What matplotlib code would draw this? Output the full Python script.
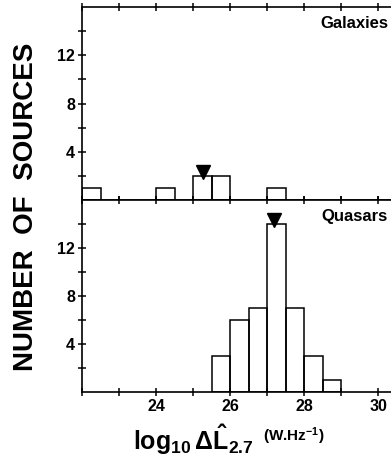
import matplotlib
matplotlib.use('Agg')
import matplotlib.pyplot as plt

plt.rcParams['font.family'] = ['Liberation Sans', 'DejaVu Sans']
plt.rcParams['font.weight'] = 'bold'
plt.rcParams['mathtext.fontset'] = 'custom'
plt.rcParams['mathtext.rm'] = 'Liberation Sans:bold'
plt.rcParams['mathtext.it'] = 'Liberation Sans:bold'
plt.rcParams['mathtext.bf'] = 'Liberation Sans:bold'

# histogram data: left bin edge (log10 L) and counts, bin width 0.5
gal_bins = [22.0, 24.0, 25.0, 25.5, 27.0]
gal_counts = [1, 1, 2, 2, 1]
gal_mean = 25.27

qso_bins = [25.5, 26.0, 26.5, 27.0, 27.5, 28.0, 28.5]
qso_counts = [3, 6, 7, 14, 7, 3, 1]
qso_mean = 27.2

bin_width = 0.5
x_labels = [24, 26, 28, 30]
y_labels = [4, 8, 12]

fig = plt.figure(figsize=(3.91, 4.70), dpi=100)
ax_g = fig.add_axes([0.21, 0.574, 0.79, 0.411])
ax_q = fig.add_axes([0.21, 0.166, 0.79, 0.408])

panels = [(ax_g, gal_bins, gal_counts, gal_mean, 'Galaxies'),
          (ax_q, qso_bins, qso_counts, qso_mean, 'Quasars')]

for ax, bins, counts, mean, name in panels:
    ax.bar(bins, counts, width=bin_width, align='edge', fill=False,
           edgecolor='black', linewidth=1.1)
    top = counts[bins.index(max(b for b in bins if b <= mean))]
    ax.plot([mean], [top + 0.35], marker='v', color='black', markersize=10)
    ax.set_xlim(22, 30.35)
    ax.set_ylim(0, 16)
    ax.set_xticks(x_labels)
    ax.set_xticks([22, 23, 25, 27, 29], minor=True)
    ax.set_yticks(y_labels)
    ax.set_yticks([2, 6, 10, 14], minor=True)
    ax.tick_params(which='both', direction='inout', length=6, width=1.1,
                   top=True, labelsize=11.5, pad=2)
    ax.spines['right'].set_visible(False)
    for s in ['left', 'top', 'bottom']:
        ax.spines[s].set_linewidth(1.2)
    ax.text(0.99, 0.955, name, transform=ax.transAxes, ha='right', va='top',
            fontsize=12, fontweight='bold')

ax_g.tick_params(labelbottom=False)

fig.text(0.067, 0.56, 'NUMBER  OF  SOURCES', rotation=90, ha='center',
         va='center', fontsize=20, fontweight='bold')
fig.text(0.34, 0.065, r'$\mathrm{log}_{10}\,\Delta\hat{L}_{2.7}$',
         ha='left', va='center', fontsize=18)
fig.text(0.672, 0.072, r'(W.Hz$^{-1}$)', ha='left', va='center', fontsize=11)

fig.savefig('out.png', dpi=100)
